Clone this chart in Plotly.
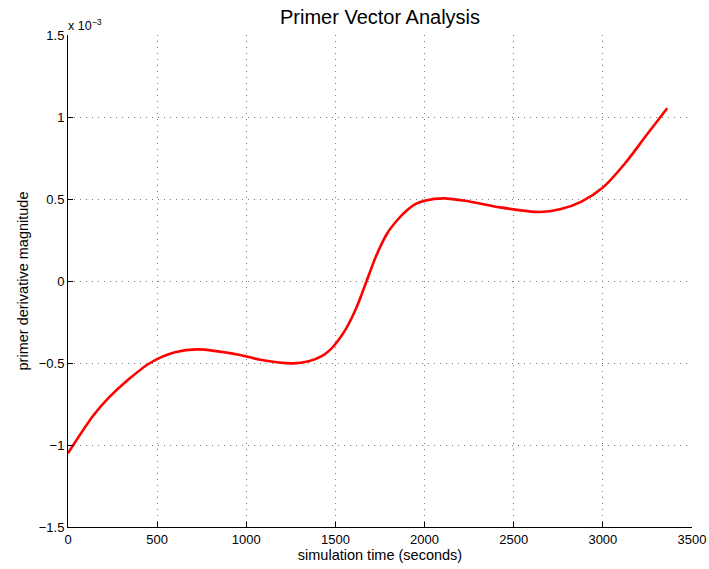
import plotly.graph_objects as go

# simulation time (s)
time_s = [0, 142, 230, 329, 460, 600, 722, 965, 1077, 1264, 1350, 1420, 1470,
          1510, 1560, 1620, 1675, 1730, 1790, 1850, 1900, 1950, 2000, 2110,
          2250, 2423, 2647, 2760, 2880, 3000, 3130, 3245, 3361]
# primer derivative magnitude (x 1e-3)
primer_deriv = [-1.05, -0.82, -0.71, -0.61, -0.50, -0.435, -0.417, -0.451, -0.48,
                -0.502, -0.49, -0.46, -0.42, -0.37, -0.29, -0.157, 0.0, 0.157,
                0.29, 0.375, 0.43, 0.47, 0.49, 0.504, 0.485, 0.449, 0.421, 0.437,
                0.484, 0.57, 0.725, 0.89, 1.053]

y_ticks = [-1.5, -1, -0.5, 0, 0.5, 1, 1.5]
y_ticktext = ["\u22121.5", "\u22121", "\u22120.5", "0", "0.5", "1", "1.5"]
x_ticks = [0, 500, 1000, 1500, 2000, 2500, 3000, 3500]

font = "Liberation Sans, Arial, Helvetica, sans-serif"
grid_kw = dict(showgrid=True, gridcolor="#777777", griddash="1px,5px", gridwidth=1)

fig = go.Figure()
fig.add_trace(go.Scatter(
    x=time_s, y=primer_deriv, mode="lines",
    line=dict(color="#ff0000", width=2.6, shape="spline", smoothing=0.9),
    showlegend=False,
))

fig.update_layout(
    width=709, height=569,
    margin=dict(l=68, r=17, t=35, b=42),
    paper_bgcolor="white", plot_bgcolor="white",
    font=dict(family=font, size=13, color="black"),
    title=dict(text="Primer Vector Analysis", x=0.536, xanchor="center",
               y=0.97, yanchor="middle", font=dict(size=20, color="black")),
    xaxis=dict(
        range=[0, 3500], tickvals=x_ticks, ticks="inside", ticklen=5,
        tickcolor="black", showline=True, linecolor="black", linewidth=1,
        zeroline=False, mirror=False, automargin=False,
        title=dict(text="simulation time (seconds)", standoff=2,
                   font=dict(size=14.5)),
        tickfont=dict(size=13), **grid_kw,
    ),
    yaxis=dict(
        range=[-1.5, 1.5], tickvals=y_ticks, ticktext=y_ticktext,
        ticks="inside", ticklen=5, tickcolor="black", showline=True,
        linecolor="black", linewidth=1, zeroline=False, automargin=False,
        title=dict(text="primer derivative magnitude", standoff=6,
                   font=dict(size=14.5)),
        tickfont=dict(size=13), **grid_kw,
    ),
    annotations=[dict(
        text="x 10<sup>\u22123</sup>", xref="paper", yref="paper",
        x=0.0, y=1.0, xanchor="left", yanchor="bottom", showarrow=False,
        font=dict(size=12.5, color="black"), xshift=-2, yshift=0,
    )],
)

fig.write_html("out.html")
